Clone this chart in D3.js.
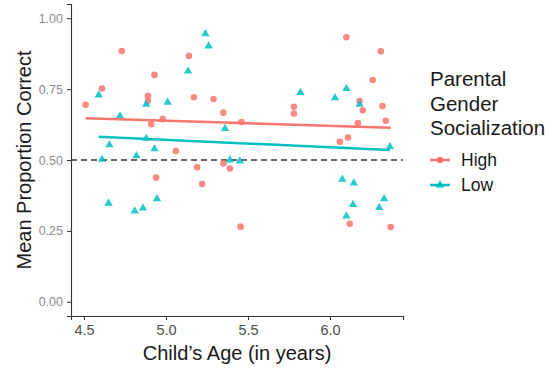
<!DOCTYPE html>
<html>
<head>
<meta charset="utf-8">
<script src="https://cdn.jsdelivr.net/npm/d3@7"></script>
<style>
  body { margin: 0; background: #fff; }
  text { font-family: "Liberation Sans", Arial, sans-serif; }
</style>
</head>
<body>
<svg id="chart" width="550" height="368"></svg>
<script>
  // points: age (years), mean proportion correct
  var highAge = [4.51, 4.61, 4.73, 4.89, 4.89, 4.93, 4.91, 4.98, 5.06, 5.14, 5.17, 5.29, 5.35,
    5.19, 5.35, 5.39, 5.22, 4.94, 5.455, 5.46,
    6.10, 6.31, 6.26, 5.78, 5.78, 6.18, 6.20, 6.32, 6.34, 6.17, 6.06, 6.11, 6.12, 6.37];
  var highScore = [0.695, 0.752, 0.884, 0.726, 0.708, 0.80, 0.626, 0.644, 0.532, 0.867, 0.721, 0.715, 0.667,
    0.474, 0.488, 0.47, 0.415, 0.438, 0.265, 0.634,
    0.933, 0.883, 0.782, 0.688, 0.664, 0.708, 0.675, 0.69, 0.638, 0.63, 0.564, 0.579, 0.275, 0.264];

  var lowAge = [4.59, 4.72, 4.655, 4.61, 4.82, 4.88, 4.88, 4.93, 5.01, 5.135, 5.24, 5.26, 5.36, 5.39, 5.45,
    4.65, 4.81, 4.86, 4.945,
    5.82, 6.03, 6.10, 6.18, 6.365, 6.075, 6.145, 6.14, 6.10, 6.33, 6.30];
  var lowScore = [0.729, 0.655, 0.553, 0.502, 0.515, 0.696, 0.576, 0.539, 0.703, 0.813, 0.945, 0.902, 0.611, 0.50, 0.496,
    0.347, 0.32, 0.33, 0.363,
    0.738, 0.719, 0.752, 0.696, 0.547, 0.432, 0.419, 0.343, 0.302, 0.363, 0.332];

  // fitted lines (ends of the lm fit)
  var highFitAge = [4.51, 6.37];
  var highFit = [0.647, 0.614];
  var lowFitAge = [4.59, 6.365];
  var lowFit = [0.582, 0.535];

  var xTicks = [4.5, 5.0, 5.5, 6.0];
  var yTicks = [0, 0.25, 0.5, 0.75, 1];
  var groups = ["High", "Low"];
  var colors = ["#F8766D", "#00BFC4"];

  var svg = d3.select("#chart");

  var x = d3.scaleLinear().domain([4.421, 6.445]).range([71, 403]);
  var y = d3.scaleLinear().domain([-0.05, 1.05]).range([316, 4]);

  // dashed reference at chance
  svg.append("line")
    .attr("x1", x.range()[0]).attr("x2", x.range()[1])
    .attr("y1", y(0.5)).attr("y2", y(0.5))
    .attr("stroke", "#333").attr("stroke-width", 1.3)
    .attr("stroke-dasharray", "6,4");

  var series = [
    { age: highAge, score: highScore, fa: highFitAge, fv: highFit, color: colors[0], shape: d3.symbolCircle, size: 34 },
    { age: lowAge, score: lowScore, fa: lowFitAge, fv: lowFit, color: colors[1], shape: d3.symbolTriangle, size: 30 }
  ];

  series.forEach(function (s) {
    svg.append("g").selectAll("path")
      .data(s.age.map(function (a, i) { return [a, s.score[i]]; }))
      .enter()
      .append("path")
        .attr("d", d3.symbol().type(s.shape).size(s.size))
        .attr("transform", function (d) { return "translate(" + x(d[0]) + "," + y(d[1]) + ")"; })
        .attr("fill", s.color)
        .attr("fill-opacity", 0.85);
  });

  series.forEach(function (s) {
    svg.append("path")
      .datum(s.fa.map(function (a, i) { return [a, s.fv[i]]; }))
      .attr("d", d3.line().x(function (d) { return x(d[0]); }).y(function (d) { return y(d[1]); }))
      .attr("stroke", s.color).attr("stroke-width", 2.5).attr("fill", "none");
  });

  // axes
  var xAxis = svg.append("g")
    .attr("transform", "translate(0," + y.range()[0] + ")")
    .call(d3.axisBottom(x).tickValues(xTicks).tickFormat(d3.format(".1f")).tickSizeOuter(0).tickSize(4).tickPadding(5));
  xAxis.select(".domain").attr("stroke", "#333").attr("stroke-width", 1.1);
  xAxis.selectAll(".tick line").attr("stroke", "#333");
  xAxis.selectAll(".tick text").attr("fill", "#4d4d4d").attr("font-size", "14.5px")
    .attr("font-family", "'Liberation Sans', Arial, sans-serif");

  var yAxis = svg.append("g")
    .attr("transform", "translate(" + x.range()[0] + ",0)")
    .call(d3.axisLeft(y).tickValues(yTicks).tickFormat(d3.format(".2f")).tickSizeOuter(0).tickSize(4).tickPadding(4));
  yAxis.select(".domain").attr("stroke", "#333").attr("stroke-width", 1.1);
  yAxis.selectAll(".tick line").attr("stroke", "#333");
  yAxis.selectAll(".tick text").attr("fill", "#8c8c8c").attr("font-size", "12.5px")
    .attr("font-family", "'Liberation Sans', Arial, sans-serif");

  svg.append("text")
    .attr("x", 237).attr("y", 360)
    .attr("text-anchor", "middle")
    .attr("font-size", "20px").attr("fill", "#1a1a1a")
    .text("Child\u2019s Age (in years)");

  svg.append("text")
    .attr("transform", "translate(31,160) rotate(-90)")
    .attr("text-anchor", "middle")
    .attr("font-size", "20px").attr("fill", "#1a1a1a")
    .text("Mean Proportion Correct");

  // legend
  var legend = svg.append("g");
  ["Parental", "Gender", "Socialization"].forEach(function (t, i) {
    legend.append("text")
      .attr("x", 430).attr("y", 86 + i * 24.5)
      .attr("font-size", "20.5px").attr("fill", "#1a1a1a")
      .text(t);
  });

  groups.forEach(function (g, i) {
    var cy = 160 + i * 25;
    legend.append("line")
      .attr("x1", 430).attr("x2", 450).attr("y1", cy).attr("y2", cy)
      .attr("stroke", colors[i]).attr("stroke-width", 2.5);
    legend.append("path")
      .attr("d", d3.symbol().type(series[i].shape).size(series[i].size))
      .attr("transform", "translate(440," + cy + ")")
      .attr("fill", colors[i]);
    legend.append("text")
      .attr("x", 461).attr("y", cy + 6.3)
      .attr("font-size", "17.5px").attr("fill", "#1a1a1a")
      .text(g);
  });
</script>
</body>
</html>
